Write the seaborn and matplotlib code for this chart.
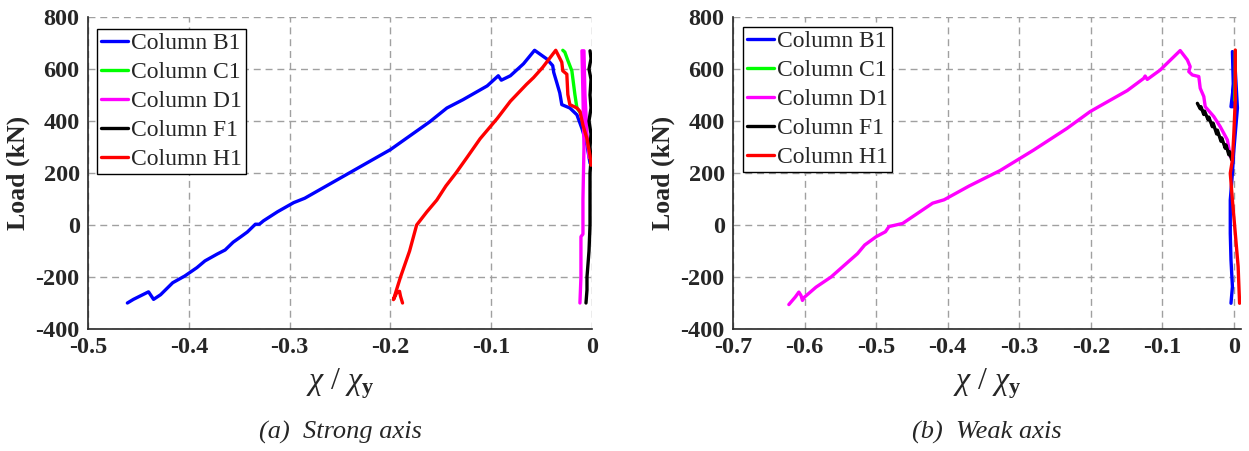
import numpy as np
import pandas as pd
import matplotlib
matplotlib.use('Agg')
import matplotlib.pyplot as plt
import seaborn as sns

# ---- data: curvature ratio (chi/chi_y) vs load (kN) ----
columns = ['Column B1', 'Column C1', 'Column D1', 'Column F1', 'Column H1']
colors = ['#0000ff', '#00ff00', '#ff00ff', '#000000', '#ff0000']

# (a) strong axis
strong_b1_x = [-0.461, -0.455, -0.440, -0.435, -0.428, -0.416, -0.404, -0.392, -0.384, -0.372,
               -0.364, -0.356, -0.348, -0.342, -0.334, -0.330, -0.326, -0.312, -0.296, -0.285,
               -0.25, -0.20, -0.161, -0.144, -0.128, -0.104, -0.093, -0.090, -0.081, -0.068,
               -0.057, -0.045, -0.039, -0.038, -0.035, -0.032, -0.030, -0.022, -0.015, -0.010,
               -0.005, -0.002]
strong_b1_y = [-300, -286, -257, -286, -268, -222, -196, -164, -138, -112,
               -96, -66, -44, -27, 3, 3, 16, 51, 86, 103,
               180, 290, 397, 450, 482, 535, 574, 557, 574, 620,
               672, 639, 613, 587, 548, 508, 463, 450, 424, 371,
               306, 238]
strong_c1_x = [-0.029, -0.027, -0.024, -0.020, -0.017, -0.015, -0.010, -0.007, -0.004, -0.003]
strong_c1_y = [672, 665, 633, 593, 502, 450, 424, 371, 306, 290]
strong_d1_x = [-0.012, -0.011, -0.011, -0.009, -0.009, -0.008, -0.009, -0.010, -0.008, -0.007,
               -0.005, -0.003]
strong_d1_y = [-300, -200, -45, -35, 100, 300, 500, 670, 670, 500, 350, 260]
strong_f1_x = [-0.006, -0.005, -0.005, -0.004, -0.003, -0.002, -0.002, -0.002, -0.001, -0.002,
               -0.001, -0.003, -0.001, -0.002, -0.001, -0.003, -0.001, -0.002]
strong_f1_y = [-300, -250, -200, -150, -100, 0, 100, 200, 250, 300,
               350, 400, 450, 500, 560, 600, 640, 670]
strong_h1_x = [-0.188, -0.190, -0.191, -0.194, -0.197, -0.190, -0.181, -0.174, -0.164, -0.154,
               -0.145, -0.135, -0.124, -0.111, -0.094, -0.081, -0.065, -0.058, -0.049, -0.036,
               -0.030, -0.029, -0.025, -0.024, -0.022, -0.015, -0.012, -0.009, -0.005, -0.002,
               -0.001]
strong_h1_y = [-300, -274, -255, -262, -287, -200, -100, 0, 50, 96,
               150, 200, 260, 332, 410, 476, 541, 567, 606, 672,
               626, 593, 580, 502, 463, 450, 437, 384, 332, 267,
               230]

# (b) weak axis
weak_b1_x = [-0.004, -0.002, -0.004, -0.005, -0.005, -0.002, 0.000, 0.005, 0.002, -0.004,
             0.000, -0.002]
weak_b1_y = [-301, -237, -135, -32, 96, 199, 288, 450, 596, 455, 455, 667]
weak_c1_x = [0.002, 0.002, 0.001]
weak_c1_y = [670, 560, 480]
weak_d1_x = [-0.622, -0.613, -0.608, -0.605, -0.603, -0.600, -0.584, -0.563, -0.547, -0.526,
             -0.516, -0.500, -0.487, -0.482, -0.463, -0.442, -0.421, -0.405, -0.370, -0.327,
             -0.280, -0.233, -0.201, -0.187, -0.149, -0.126, -0.124, -0.121, -0.103, -0.075,
             -0.065, -0.061, -0.063, -0.058, -0.049, -0.047, -0.042, -0.040, -0.028, -0.019,
             -0.009, -0.005]
weak_d1_y = [-306, -277, -258, -271, -290, -277, -239, -200, -161, -110,
             -77, -45, -26, -6, 6, 45, 84, 97, 150, 209,
             288, 372, 436, 458, 517, 564, 573, 560, 596, 671,
             635, 609, 590, 577, 571, 526, 494, 455, 417, 378,
             327, 263]
weak_f1_x = [-0.051, -0.047, -0.046, -0.042, -0.041, -0.036, -0.035, -0.030, -0.029, -0.024,
             -0.023, -0.018, -0.017, -0.012, -0.011, -0.007, -0.006, -0.003, -0.002]
weak_f1_y = [468, 447, 455, 425, 438, 405, 415, 378, 392, 350,
             365, 322, 335, 295, 308, 270, 282, 250, 262]
weak_h1_x = [0.008, 0.006, 0.002, -0.002, -0.005, -0.002, 0.000, 0.002, 0.002]
weak_h1_y = [-301, -160, -32, 96, 199, 250, 353, 481, 673]

strong = {'Column B1': (strong_b1_x, strong_b1_y), 'Column C1': (strong_c1_x, strong_c1_y),
          'Column D1': (strong_d1_x, strong_d1_y), 'Column F1': (strong_f1_x, strong_f1_y),
          'Column H1': (strong_h1_x, strong_h1_y)}
weak = {'Column B1': (weak_b1_x, weak_b1_y), 'Column C1': (weak_c1_x, weak_c1_y),
        'Column D1': (weak_d1_x, weak_d1_y), 'Column F1': (weak_f1_x, weak_f1_y),
        'Column H1': (weak_h1_x, weak_h1_y)}


def to_frame(d):
    parts = []
    for name in columns:
        x, y = d[name]
        parts.append(pd.DataFrame({'curv': x, 'load': y, 'Column': name}))
    return pd.concat(parts, ignore_index=True)


sns.set_style('white')
plt.rcParams['font.family'] = ['Liberation Serif', 'DejaVu Serif']
plt.rcParams['axes.unicode_minus'] = False
plt.rcParams['mathtext.fontset'] = 'custom'
plt.rcParams['mathtext.rm'] = 'Liberation Serif'
plt.rcParams['mathtext.it'] = 'Liberation Serif:italic'
plt.rcParams['mathtext.bf'] = 'Liberation Serif:bold'

fig = plt.figure(figsize=(12.49, 4.51), dpi=100)
ax1 = fig.add_axes([0.0705, 0.2705, 0.4035, 0.6918])
ax2 = fig.add_axes([0.5869, 0.2705, 0.4067, 0.6918])

panels = [(ax1, strong, (-0.5, 0.0), np.arange(-0.5, 0.01, 0.1), (0.018, 0.962), '(a)  Strong axis'),
          (ax2, weak, (-0.7, 0.01), np.arange(-0.7, 0.01, 0.1), (0.02, 0.968), '(b)  Weak axis')]

for ax, d, xlim, xt, leg_pos, caption in panels:
    df = to_frame(d)
    sns.lineplot(data=df, x='curv', y='load', hue='Column', hue_order=columns,
                 palette=colors, sort=False, estimator=None, lw=2.4, ax=ax)
    ax.set_xlim(*xlim)
    ax.set_ylim(-400, 800)
    ax.set_xticks(xt)
    ax.set_xticklabels(['0' if abs(v) < 1e-9 else f'{v:.1f}' for v in xt])
    ax.set_yticks(range(-400, 801, 200))
    ax.grid(True, color='#a0a0a0', linestyle=(0, (5, 3.5)), linewidth=1)
    for s in ['top', 'right']:
        ax.spines[s].set_visible(False)
    for s in ['left', 'bottom']:
        ax.spines[s].set_color('#262626')
        ax.spines[s].set_linewidth(1.2)
    ax.tick_params(length=0, pad=6, labelsize=17.5, labelcolor='#262626')
    for lab in ax.get_xticklabels() + ax.get_yticklabels():
        lab.set_fontweight('bold')
    ax.set_xlabel(r'$\chi$ / $\chi_{\mathbf{y}}$', fontsize=23, labelpad=6)
    ax.set_ylabel('Load (kN)', fontsize=18.5, fontweight='bold', labelpad=4, color='#262626')
    leg = ax.legend(loc='upper left', bbox_to_anchor=leg_pos, borderaxespad=0,
                    fontsize=17, handlelength=1.15, handletextpad=0.15, labelspacing=0.32,
                    borderpad=0.15, fancybox=False, framealpha=1, edgecolor='black')
    leg.get_frame().set_linewidth(1.0)
    for h in leg.get_lines():
        h.set_linewidth(2.4)
    pos = ax.get_position()
    fig.text((pos.x0 + pos.x1) / 2, 0.042, caption, ha='center', va='center',
             fontsize=19, style='italic')

fig.savefig('out.png', dpi=100)
